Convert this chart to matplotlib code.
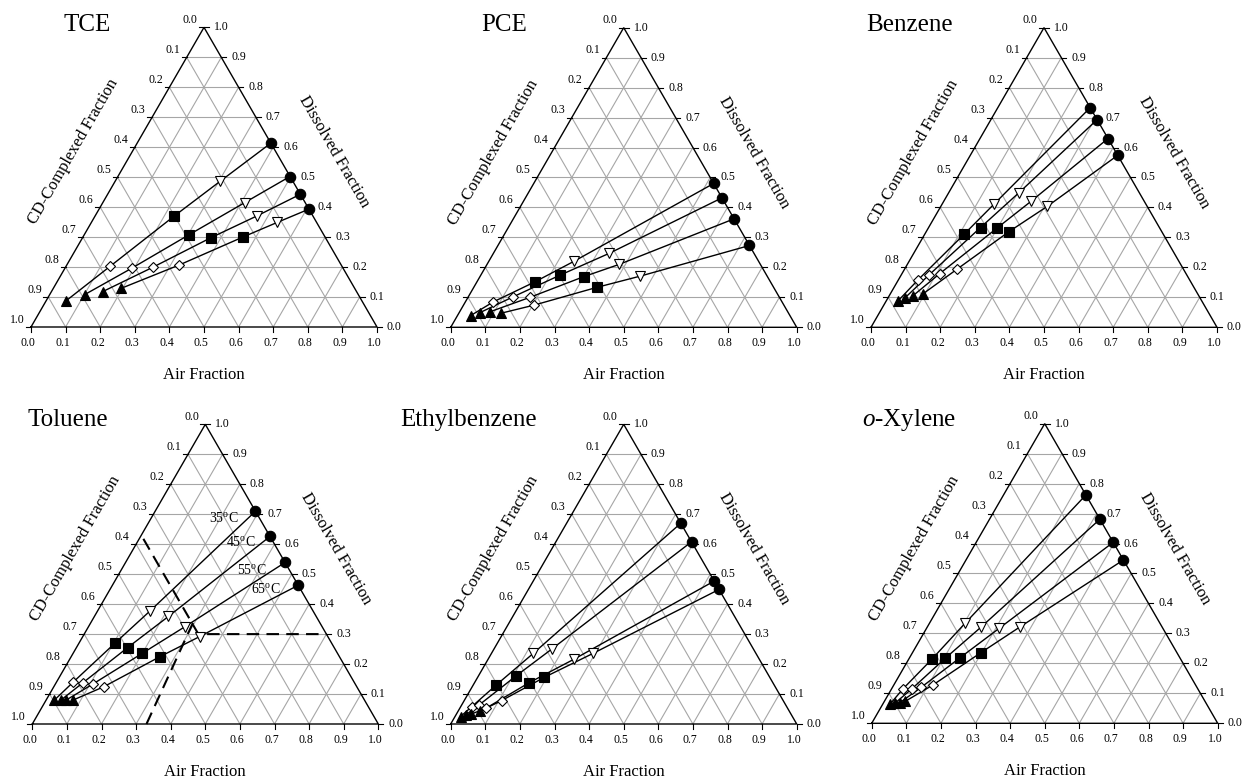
import numpy as np
import matplotlib
matplotlib.use("Agg")
import matplotlib.pyplot as plt

plt.rcParams['font.family'] = ['Liberation Serif', 'DejaVu Serif']
plt.rcParams['mathtext.fontset'] = 'custom'
plt.rcParams['mathtext.rm'] = 'Liberation Serif'
plt.rcParams['mathtext.it'] = 'Liberation Serif:italic'

# ---------------- data: (air fraction, dissolved fraction) ----------------
# rows = 35, 45, 55, 65 degC ; columns = circle, open down-tri, square, open diamond, triangle
TCE_air = [[0.386, 0.304, 0.228, 0.127, 0.058], [0.497, 0.410, 0.303, 0.194, 0.101],
           [0.557, 0.468, 0.371, 0.252, 0.148], [0.606, 0.537, 0.462, 0.325, 0.196]]
TCE_dis = [[0.613, 0.487, 0.369, 0.202, 0.088], [0.502, 0.415, 0.308, 0.197, 0.108],
           [0.443, 0.371, 0.298, 0.199, 0.118], [0.393, 0.349, 0.300, 0.207, 0.129]]

PCE_air = [[0.520, 0.247, 0.168, 0.081, 0.038], [0.568, 0.335, 0.229, 0.130, 0.060],
           [0.638, 0.382, 0.300, 0.179, 0.088], [0.727, 0.463, 0.355, 0.204, 0.122]]
PCE_dis = [[0.480, 0.221, 0.152, 0.085, 0.039], [0.432, 0.247, 0.174, 0.102, 0.049],
           [0.362, 0.210, 0.169, 0.100, 0.052], [0.273, 0.171, 0.133, 0.074, 0.047]]

BEN_air = [[0.267, 0.150, 0.114, 0.057, 0.034], [0.307, 0.203, 0.150, 0.080, 0.049],
           [0.370, 0.252, 0.198, 0.109, 0.068], [0.426, 0.308, 0.239, 0.151, 0.094]]
BEN_dis = [[0.733, 0.411, 0.311, 0.159, 0.088], [0.693, 0.449, 0.333, 0.174, 0.098],
           [0.630, 0.420, 0.330, 0.179, 0.104], [0.574, 0.404, 0.319, 0.193, 0.111]]

TOL_air = [[0.290, 0.152, 0.104, 0.048, 0.024], [0.374, 0.214, 0.148, 0.077, 0.043],
           [0.461, 0.279, 0.200, 0.109, 0.058], [0.537, 0.338, 0.257, 0.144, 0.078]]
TOL_dis = [[0.710, 0.378, 0.270, 0.139, 0.080], [0.626, 0.359, 0.255, 0.137, 0.080],
           [0.539, 0.325, 0.236, 0.134, 0.080], [0.463, 0.292, 0.225, 0.124, 0.080]]

ETB_air = [[0.330, 0.121, 0.066, 0.032, 0.016], [0.392, 0.167, 0.109, 0.050, 0.028],
           [0.523, 0.248, 0.158, 0.076, 0.043], [0.551, 0.294, 0.193, 0.108, 0.063]]
ETB_dis = [[0.670, 0.236, 0.129, 0.058, 0.025], [0.608, 0.250, 0.161, 0.063, 0.030],
           [0.477, 0.216, 0.138, 0.053, 0.033], [0.449, 0.236, 0.156, 0.078, 0.043]]

OXY_air = [[0.238, 0.103, 0.067, 0.033, 0.021], [0.319, 0.155, 0.104, 0.059, 0.034],
           [0.396, 0.210, 0.146, 0.083, 0.047], [0.455, 0.268, 0.198, 0.113, 0.060]]
OXY_dis = [[0.762, 0.334, 0.214, 0.115, 0.064], [0.681, 0.320, 0.217, 0.116, 0.068],
           [0.604, 0.317, 0.219, 0.120, 0.069], [0.545, 0.322, 0.236, 0.128, 0.073]]

titles = ['TCE', 'PCE', 'Benzene', 'Toluene', 'Ethylbenzene', r'$\mathit{o}$-Xylene']
air_sets = [TCE_air, PCE_air, BEN_air, TOL_air, ETB_air, OXY_air]
dis_sets = [TCE_dis, PCE_dis, BEN_dis, TOL_dis, ETB_dis, OXY_dis]

temp_labels = ['35$^{\\rm o}$C', '45$^{\\rm o}$C', '55$^{\\rm o}$C', '65$^{\\rm o}$C']
temp_pos = [(0.555, 0.596), (0.603, 0.525), (0.635, 0.446), (0.674, 0.390)]

# toluene dashed guide lines (air, dissolved)
dash1_air, dash1_dis = [0.012, 0.330, 0.700], [0.618, 0.300, 0.300]
dash2_air, dash2_dis = [0.330, 0.295], [0.000, 0.342]

tick_vals = np.round(np.arange(0, 1.01, 0.1), 1)
tick_labels = ['%.1f' % v for v in tick_vals]

# ---------------- layout ----------------
W, H = 1245, 781
fig = plt.figure(figsize=(W / 100, H / 100), dpi=100)
L = 346.0
panel_bl = [(31.0, 327.0), (450.7, 327.3), (871.0, 327.3),
            (32.3, 724.0), (450.7, 724.0), (871.7, 723.3)]
title_pos = [(64, 25), (481, 25), (866, 25), (28, 420), (400, 420), (862, 420)]

S3 = np.sqrt(3) / 2
def tern(a, d):
    a = np.asarray(a, float); d = np.asarray(d, float)
    return a + d / 2, d * S3

XL, XR, YB, YT = -0.3, 1.2, -0.3, 1.0
styles = [dict(marker='o', ms=7.5, mfc='black'),
          dict(marker='v', ms=7.0, mfc='white'),
          dict(marker='s', ms=6.5, mfc='black'),
          dict(marker='D', ms=5.5, mfc='white'),
          dict(marker='^', ms=7.0, mfc='black')]
gcol = '#a6a6a6'

for i in range(6):
    bx, by = panel_bl[i]
    left = (bx + XL * L) / W
    bottom = (H - by + YB * L) / H
    ax = fig.add_axes([left, bottom, (XR - XL) * L / W, (YT - YB) * L / H])
    ax.set_xlim(XL, XR); ax.set_ylim(YB, YT)
    ax.axis('off')
    ax.patch.set_alpha(0)

    # grid
    for k in range(1, 10):
        v = k / 10
        x, y = tern([0, 1 - v], [v, v]); ax.plot(x, y, color=gcol, lw=0.8, zorder=1)
        x, y = tern([v, v], [0, 1 - v]); ax.plot(x, y, color=gcol, lw=0.8, zorder=1)
        x, y = tern([0, 1 - v], [1 - v, 0]); ax.plot(x, y, color=gcol, lw=0.8, zorder=1)
    # outline
    x, y = tern([0, 1, 0, 0], [0, 0, 1, 0])
    ax.plot(x, y, color='black', lw=1.0, zorder=2, solid_joinstyle='miter')

    tl = 0.014
    for v, lab in zip(tick_vals, tick_labels):
        # bottom (air)
        ax.plot([v, v], [0, -tl], color='black', lw=0.8)
        ax.text(v - 0.008, -0.046, lab, ha='center', va='center', fontsize=8.5)
        # left (CD-complexed), value c -> point with a=0, d=1-c
        x, y = tern(0, 1 - v)
        ax.plot([x, x - tl], [y, y], color='black', lw=0.8)
        ax.text(x - 0.040, y + 0.021, lab, ha='center', va='center', fontsize=8.5)
        # right (dissolved)
        x, y = tern(1 - v, v)
        ax.plot([x, x + tl], [y, y], color='black', lw=0.8)
        ax.text(x + 0.050, y, lab, ha='center', va='center', fontsize=8.5)

    ax.text(0.5, -0.139, 'Air Fraction', ha='center', va='center', fontsize=12)
    off = 0.146
    ax.text(0.25 - off * 0.866, 0.433 + off * 0.5, 'CD-Complexed Fraction',
            rotation=60, ha='center', va='center', fontsize=12, rotation_mode='anchor')
    ax.text(0.75 + off * 0.866, 0.433 + off * 0.5, 'Dissolved Fraction',
            rotation=-60, ha='center', va='center', fontsize=12, rotation_mode='anchor')

    A = np.array(air_sets[i]); D = np.array(dis_sets[i])
    for s in range(4):
        x, y = tern(A[s], D[s])
        ax.plot(x, y, color='black', lw=1.0, zorder=3)
        for m in range(5):
            st = styles[m]
            ax.plot(x[m], y[m], ls='none', marker=st['marker'], ms=st['ms'],
                    mfc=st['mfc'], mec='black', mew=0.8, zorder=4, clip_on=False)

    if i == 3:
        x, y = tern(dash1_air, dash1_dis)
        ax.plot(x, y, color='black', lw=1.5, ls=(0, (6, 3.5)), zorder=3)
        x, y = tern(dash2_air, dash2_dis)
        ax.plot(x, y, color='black', lw=1.5, ls=(0, (6, 3.5)), zorder=3)
        for lab, (tx, ty) in zip(temp_labels, temp_pos):
            ax.text(tx, ty, lab, ha='center', va='center', fontsize=10, zorder=5)

    tx, ty = title_pos[i]
    fig.text(tx / W, 1 - ty / H, titles[i], ha='left', va='center', fontsize=18)

fig.savefig('out.png', dpi=100)
